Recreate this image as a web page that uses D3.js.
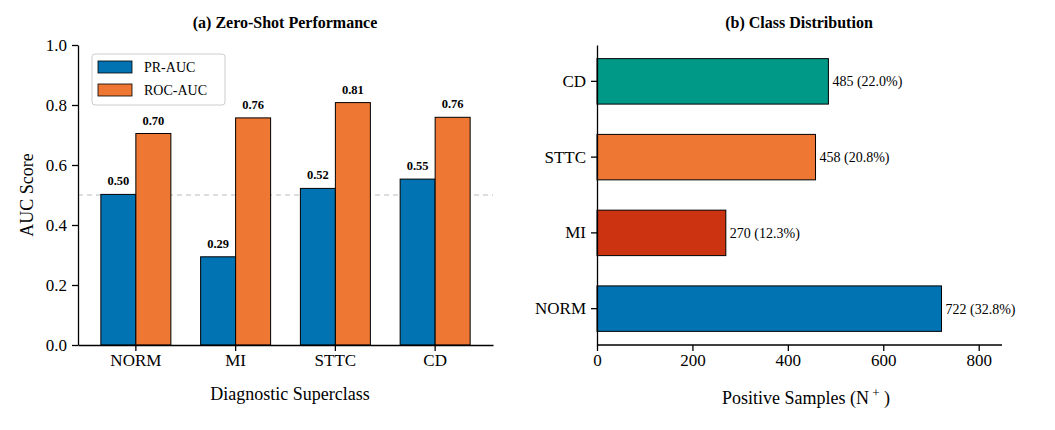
<!DOCTYPE html>
<html><head><meta charset="utf-8">
<script src="https://cdn.jsdelivr.net/npm/d3@7"></script>
<style>body{margin:0;background:#fff}text{font-family:"Liberation Serif","DejaVu Serif",serif}</style>
</head><body><svg id="c" width="1055" height="430"></svg>
<script>
const classes = ["NORM", "MI", "STTC", "CD"];
const prAuc = [0.502, 0.294, 0.522, 0.553];
const rocAuc = [0.705, 0.757, 0.808, 0.759];
const prLabels = ["0.50", "0.29", "0.52", "0.55"];
const rocLabels = ["0.70", "0.76", "0.81", "0.76"];
const counts = [722, 270, 458, 485];
const countLabels = ["722 (32.8%)", "270 (12.3%)", "458 (20.8%)", "485 (22.0%)"];
const yTicks = [0, 0.2, 0.4, 0.6, 0.8, 1.0];
const xTicks = [0, 200, 400, 600, 800];
const classColors = ["#0173b2", "#cc3311", "#ee7733", "#009988"];

const svg = d3.select("#c");

// (a) grouped bars
const xa = d3.scaleBand().domain(classes).range([78, 493]).paddingInner(0.3).paddingOuter(0.23);
const ya = d3.scaleLinear().domain([0, 1]).range([345, 45]);
const bw = 35;
const ga = svg.append("g");
ga.append("line").attr("x1", 78).attr("x2", 493).attr("y1", ya(0.5)).attr("y2", ya(0.5))
  .attr("stroke", "#bbb").attr("stroke-width", 1.2).attr("stroke-dasharray", "5,4");
const series = [{v: prAuc, l: prLabels, c: "#0173b2", off: -bw}, {v: rocAuc, l: rocLabels, c: "#ee7733", off: 0}];
series.forEach(s => {
  classes.forEach((k, i) => {
    const cx = xa(k) + xa.bandwidth() / 2;
    ga.append("rect").attr("x", cx + s.off).attr("width", bw).attr("y", ya(s.v[i]))
      .attr("height", ya(0) - ya(s.v[i])).attr("fill", s.c).attr("stroke", "#000").attr("stroke-width", 1);
    ga.append("text").attr("x", cx + s.off + bw / 2).attr("y", ya(s.v[i]) - 9).attr("text-anchor", "middle")
      .attr("font-size", 12.5).attr("font-weight", "bold").text(s.l[i]);
  });
});
const axA = ga.append("g").attr("transform", "translate(0,345)").call(d3.axisBottom(xa).tickSize(6).tickSizeOuter(0));
const axAy = ga.append("g").attr("transform", "translate(78,0)").call(d3.axisLeft(ya).tickValues(yTicks).tickFormat(d3.format(".1f")).tickSize(6).tickSizeOuter(0));
[axA, axAy].forEach(a => { a.selectAll("path,line").attr("stroke", "#000").attr("stroke-width", 1.3); a.selectAll("text").attr("font-size", 17).attr("fill", "#000").style("font-family", "Liberation Serif"); });
axAy.selectAll("text").attr("dx", "-2");
ga.append("text").attr("x", 290).attr("y", 400).attr("text-anchor", "middle").attr("font-size", 18).text("Diagnostic Superclass");
ga.append("text").attr("transform", "translate(33,195) rotate(-90)").attr("text-anchor", "middle").attr("font-size", 18).text("AUC Score");
ga.append("text").attr("x", 285).attr("y", 28).attr("text-anchor", "middle").attr("font-size", 16).attr("font-weight", "bold").text("(a) Zero-Shot Performance");
const lg = ga.append("g");
lg.append("rect").attr("x", 92).attr("y", 54).attr("width", 133).attr("height", 51).attr("rx", 3).attr("fill", "#fff").attr("stroke", "#ccc").attr("stroke-width", 1);
["PR-AUC", "ROC-AUC"].forEach((n, i) => {
  lg.append("rect").attr("x", 98).attr("y", 61 + i * 23).attr("width", 34).attr("height", 12).attr("fill", series[i].c).attr("stroke", "#000").attr("stroke-width", 0.8);
  lg.append("text").attr("x", 144).attr("y", 72 + i * 23).attr("font-size", 14).text(n);
});

// (b) horizontal bars
const yb = d3.scaleBand().domain(classes).range([345, 45]).paddingInner(0.4).paddingOuter(0.18);
const xb = d3.scaleLinear().domain([0, 800]).range([597, 978.7]);
const gb = svg.append("g");
classes.forEach((k, i) => {
  gb.append("rect").attr("x", xb(0)).attr("y", yb(k)).attr("width", xb(counts[i]) - xb(0)).attr("height", yb.bandwidth())
    .attr("fill", classColors[i]).attr("stroke", "#000").attr("stroke-width", 1);
  gb.append("text").attr("x", xb(counts[i]) + 4).attr("y", yb(k) + yb.bandwidth() / 2 + 5).attr("font-size", 14).text(countLabels[i]);
});
const axBx = gb.append("g").attr("transform", "translate(0,345)").call(d3.axisBottom(xb).tickValues(xTicks).tickSize(6).tickSizeOuter(0));
axBx.select("path").attr("d", "M597,0H1002");
const axBy = gb.append("g").attr("transform", "translate(597,0)").call(d3.axisLeft(yb).tickSize(6).tickSizeOuter(0));
[axBx, axBy].forEach(a => { a.selectAll("path,line").attr("stroke", "#000").attr("stroke-width", 1.3); a.selectAll("text").attr("font-size", 17).attr("fill", "#000").style("font-family", "Liberation Serif"); });
axBy.selectAll("text").attr("dx", "-2");
const xl = gb.append("text").attr("x", 806).attr("y", 404).attr("text-anchor", "middle").attr("font-size", 18);
xl.append("tspan").text("Positive Samples (N");
xl.append("tspan").attr("dy", -7).attr("font-size", 13).text(" +");
xl.append("tspan").attr("dy", 7).text(" )");
gb.append("text").attr("x", 799).attr("y", 28).attr("text-anchor", "middle").attr("font-size", 16).attr("font-weight", "bold").text("(b) Class Distribution");
</script></body></html>
